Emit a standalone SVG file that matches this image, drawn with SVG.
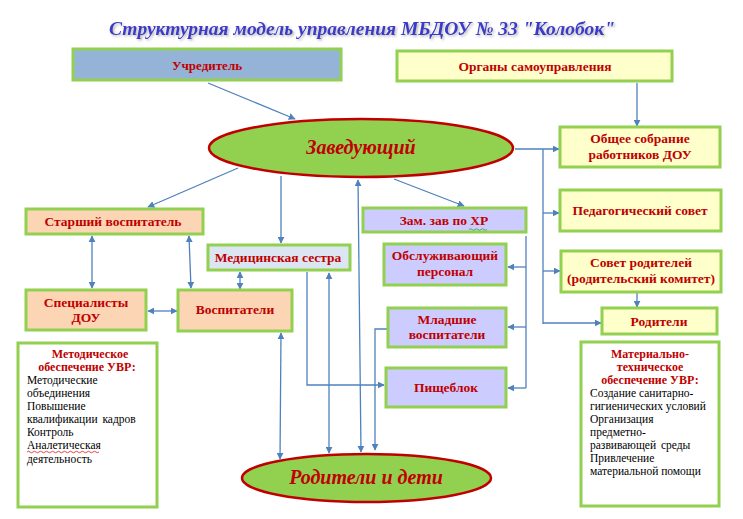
<svg xmlns="http://www.w3.org/2000/svg" width="743" height="519" viewBox="0 0 743 519">
<defs>
<style>
.box{stroke:#92d050;stroke-width:3}
.yel{fill:#ffffcc}
.blu{fill:#95b3d7}
.pch{fill:#fcd5b5}
.med{fill:#dce6f2}
.lav{fill:#ccccff}
.wht{fill:#ffffff}
.ell{fill:#92d050;stroke:#c00000;stroke-width:2.5}
.lbl{font-family:'Liberation Serif',serif !important;font-weight:bold;fill:#c00000;font-size:13.5px;text-anchor:middle}
.big{font-family:'Liberation Serif',serif !important;font-weight:bold;font-style:italic;fill:#c00000;text-anchor:middle}
.hd{font-family:'Liberation Serif',serif !important;font-weight:bold;fill:#c00000;font-size:12px;text-anchor:middle}
.bd{font-family:'Liberation Serif',serif !important;fill:#000;font-size:11.5px}
.ttl{font-weight:bold;font-style:italic;fill:#3b3bc8;font-size:19.5px;text-anchor:middle}
.con{fill:none;stroke:#4f81bd;stroke-width:1.3}
</style>
<marker id="ah" viewBox="0 0 10 10" refX="9" refY="5" markerWidth="7" markerHeight="7" markerUnits="userSpaceOnUse" orient="auto-start-reverse">
<path d="M0,0 L10,5 L0,10 z" fill="#4f81bd"/>
</marker>
<filter id="sh" x="-5%" y="-30%" width="110%" height="160%">
<feDropShadow dx="1.5" dy="1.5" stdDeviation="0.8" flood-color="#888" flood-opacity="0.6"/>
</filter>
</defs>
<rect width="743" height="519" fill="#ffffff"/>

<text id="title" class="ttl" x="362" y="35" filter="url(#sh)" font-family="Liberation Serif, serif">Структурная модель управления МБДОУ № 33 "Колобок"</text>

<g id="connectors">
<line class="con" x1="208" y1="83" x2="295" y2="119" marker-end="url(#ah)"/>
<line class="con" x1="637" y1="83" x2="637" y2="126" marker-end="url(#ah)"/>
<line class="con" x1="515" y1="149" x2="559" y2="149" marker-end="url(#ah)"/>
<line class="con" x1="543" y1="149" x2="543" y2="324"/>
<line class="con" x1="543" y1="213" x2="559" y2="213" marker-end="url(#ah)"/>
<line class="con" x1="543" y1="271" x2="560" y2="271" marker-end="url(#ah)"/>
<line class="con" x1="543" y1="323" x2="601" y2="323" marker-end="url(#ah)"/>
<line class="con" x1="637" y1="293" x2="637" y2="307" marker-end="url(#ah)"/>
<line class="con" x1="238" y1="168" x2="148" y2="207" marker-end="url(#ah)"/>
<line class="con" x1="281" y1="176" x2="281" y2="243" marker-end="url(#ah)"/>
<line class="con" x1="394" y1="179" x2="464" y2="206" marker-end="url(#ah)"/>
<line class="con" x1="361" y1="452" x2="358" y2="180" marker-start="url(#ah)" marker-end="url(#ah)"/>
<line class="con" x1="92" y1="236" x2="92" y2="288" marker-start="url(#ah)" marker-end="url(#ah)"/>
<line class="con" x1="189" y1="236" x2="191" y2="288" marker-start="url(#ah)" marker-end="url(#ah)"/>
<line class="con" x1="240" y1="272" x2="240" y2="289" marker-start="url(#ah)" marker-end="url(#ah)"/>
<line class="con" x1="148" y1="311" x2="177" y2="311" marker-start="url(#ah)" marker-end="url(#ah)"/>
<line class="con" x1="281" y1="333" x2="280" y2="459" marker-start="url(#ah)" marker-end="url(#ah)"/>
<polyline class="con" points="307,272 307,385 384,385" marker-end="url(#ah)"/>
<line class="con" x1="329" y1="273" x2="329" y2="453" marker-start="url(#ah)" marker-end="url(#ah)"/>
<polyline class="con" points="387,329 375,329 375,450" marker-end="url(#ah)"/>
<line class="con" x1="526" y1="236" x2="526" y2="388"/>
<line class="con" x1="526" y1="267" x2="508" y2="267" marker-end="url(#ah)"/>
<line class="con" x1="526" y1="327" x2="508" y2="327" marker-end="url(#ah)"/>
<line class="con" x1="526" y1="388" x2="508" y2="388" marker-end="url(#ah)"/>
</g>

<g id="uchreditel"><rect class="box blu" x="73" y="49" width="268" height="31"/><text class="lbl" x="207" y="70" style="font-family:'Liberation Serif',serif;font-size:13px">Учредитель</text></g>
<g id="organy"><rect class="box yel" x="397" y="51" width="275" height="30"/><text class="lbl" x="535" y="71" style="font-family:'Liberation Serif',serif;font-size:13.5px">Органы самоуправления</text></g>
<g id="zaveduyushchiy"><ellipse class="ell" cx="361" cy="148" rx="152" ry="29"/><text class="big" x="361" y="154" style="font-family:'Liberation Serif',serif;font-size:20px">Заведующий</text></g>
<g id="obshchee"><rect class="box yel" x="560" y="127" width="160" height="40"/><text class="lbl" x="640" y="143" style="font-family:'Liberation Serif',serif">Общее собрание</text><text class="lbl" x="640" y="159" style="font-family:'Liberation Serif',serif">работников ДОУ</text></g>
<g id="pedsovet"><rect class="box yel" x="560" y="190" width="161" height="41"/><text class="lbl" x="640" y="215" style="font-family:'Liberation Serif',serif">Педагогический совет</text></g>
<g id="sovet"><rect class="box yel" x="561" y="251" width="160" height="41"/><text class="lbl" x="641" y="267" style="font-family:'Liberation Serif',serif">Совет родителей</text><text class="lbl" x="641" y="283" style="font-family:'Liberation Serif',serif">(родительский комитет)</text></g>
<g id="roditeli"><rect class="box yel" x="602" y="308" width="115" height="26"/><text class="lbl" x="659" y="326" style="font-family:'Liberation Serif',serif">Родители</text></g>
<g id="starshiy"><rect class="box pch" x="26" y="209" width="177" height="25"/><text class="lbl" x="113" y="226" style="font-family:'Liberation Serif',serif">Старший воспитатель</text></g>
<g id="medsestra"><rect class="box med" x="208" y="245" width="142" height="25"/><text class="lbl" x="278" y="262" style="font-family:'Liberation Serif',serif">Медицинская сестра</text></g>
<g id="zamzav"><rect class="box lav" x="363" y="208" width="163" height="24"/><text class="lbl" x="444" y="225" style="font-family:'Liberation Serif',serif">Зам. зав по ХР</text><path d="M469,229.5 q1.5,-1.5 3,0 t3,0 t3,0 t3,0 t3,0 t3,0" fill="none" stroke="#4aa84a" stroke-width="0.9"/></g>
<g id="obsluzh"><rect class="box lav" x="384" y="244" width="122" height="41"/><text class="lbl" x="445" y="260" style="font-family:'Liberation Serif',serif">Обслуживающий</text><text class="lbl" x="445" y="276" style="font-family:'Liberation Serif',serif">персонал</text></g>
<g id="mladshie"><rect class="box lav" x="388" y="308" width="118" height="39"/><text class="lbl" x="447" y="324" style="font-family:'Liberation Serif',serif">Младшие</text><text class="lbl" x="447" y="339" style="font-family:'Liberation Serif',serif">воспитатели</text></g>
<g id="pishcheblok"><rect class="box lav" x="386" y="368" width="120" height="39"/><text class="lbl" x="446" y="392" style="font-family:'Liberation Serif',serif">Пищеблок</text></g>
<g id="spetsialisty"><rect class="box pch" x="26" y="290" width="120" height="40"/><text class="lbl" x="86" y="307" style="font-family:'Liberation Serif',serif">Специалисты</text><text class="lbl" x="86" y="322" style="font-family:'Liberation Serif',serif">ДОУ</text></g>
<g id="vospitateli"><rect class="box pch" x="178" y="290" width="114" height="41"/><text class="lbl" x="235" y="314" style="font-family:'Liberation Serif',serif">Воспитатели</text></g>
<g id="metod"><rect class="box wht" x="18" y="343" width="139" height="164"/>
<text class="hd" x="90" y="358" style="font-family:'Liberation Serif',serif">Методическое</text>
<text class="hd" x="87" y="371" style="font-family:'Liberation Serif',serif">обеспечение УВР:</text>
<text class="bd" x="27" y="384" style="font-family:'Liberation Serif',serif">Методические</text>
<text class="bd" x="27" y="397" style="font-family:'Liberation Serif',serif">объединения</text>
<text class="bd" x="27" y="410" style="font-family:'Liberation Serif',serif">Повышение</text>
<text class="bd" x="27" y="423" style="font-family:'Liberation Serif',serif;word-spacing:2px">квалификации кадров</text>
<text class="bd" x="27" y="436" style="font-family:'Liberation Serif',serif">Контроль</text>
<text class="bd" x="27" y="449" style="font-family:'Liberation Serif',serif">Аналетическая</text>
<path d="M27,452 q1.5,-1.5 3,0 t3,0 t3,0 t3,0 t3,0 t3,0 t3,0 t3,0 t3,0 t3,0 t3,0 t3,0 t3,0 t3,0 t3,0 t3,0 t3,0 t3,0 t3,0 t3,0 t3,0 t3,0 t3,0 t3,0" fill="none" stroke="#e03030" stroke-width="0.9"/>
<text class="bd" x="27" y="463" style="font-family:'Liberation Serif',serif">деятельность</text>
</g>
<g id="material"><rect class="box wht" x="581" y="342" width="138" height="164"/>
<text class="hd" x="650" y="358" style="font-family:'Liberation Serif',serif">Материально-</text>
<text class="hd" x="650" y="371" style="font-family:'Liberation Serif',serif">техническое</text>
<text class="hd" x="650" y="384" style="font-family:'Liberation Serif',serif">обеспечение УВР:</text>
<text class="bd" x="590" y="397" style="font-family:'Liberation Serif',serif">Создание санитарно-</text>
<text class="bd" x="590" y="410" style="font-family:'Liberation Serif',serif">гигиенических условий</text>
<text class="bd" x="590" y="423" style="font-family:'Liberation Serif',serif">Организация</text>
<text class="bd" x="590" y="436" style="font-family:'Liberation Serif',serif">предметно-</text>
<text class="bd" x="590" y="449" style="font-family:'Liberation Serif',serif;word-spacing:2px">развивающей среды</text>
<text class="bd" x="590" y="462" style="font-family:'Liberation Serif',serif">Привлечение</text>
<text class="bd" x="590" y="475" style="font-family:'Liberation Serif',serif">материальной помощи</text>
</g>
<g id="roditeli_deti"><ellipse class="ell" cx="366.5" cy="478" rx="124.5" ry="24"/><text class="big" x="366" y="484" style="font-family:'Liberation Serif',serif;font-size:20px">Родители и дети</text></g>
</svg>
